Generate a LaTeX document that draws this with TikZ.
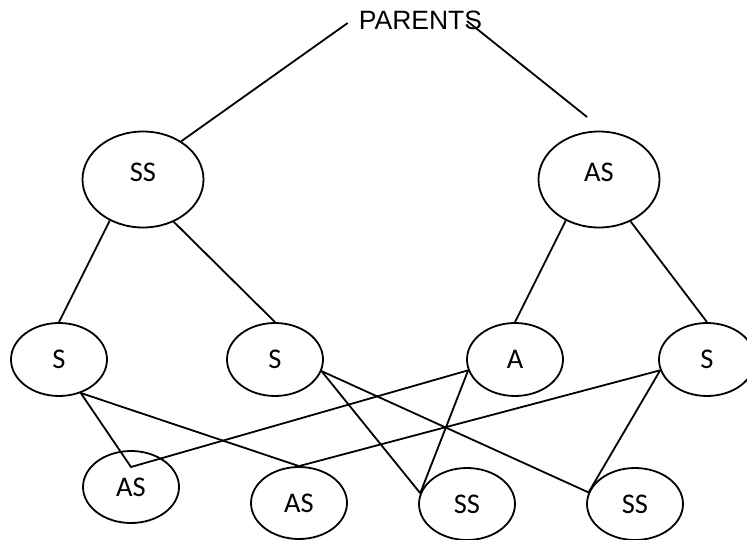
\documentclass[tikz,border=0pt]{standalone}
\usepackage{fontspec}
\setmainfont{Carlito}
\newfontfamily\headfont{Liberation Sans}
\usepackage{tikz}
\usetikzlibrary{shapes.geometric}
\tikzset{
  ell/.style={draw, ellipse, line width=1.8pt, inner sep=0pt,
    font=\fontsize{28.5}{34}\selectfont},
  topell/.style={ell, minimum width=121pt, minimum height=96pt, text depth=14.6pt},
  midell/.style={ell, minimum width=96pt, minimum height=73pt},
  lowell/.style={ell, minimum width=96pt, minimum height=72pt},
  link/.style={line width=1.8pt},
  head/.style={inner sep=0pt, font=\headfont\fontsize{26.5}{32}\selectfont},
}

\begin{document}
\begin{tikzpicture}[x=1pt, y=-1pt]
  \clip (0,0) rectangle (747,540);

  \node[head] (par) at (420.5,20) {PARENTS};

  % generation 1
  \node[topell] (ss) at (143,179.5) {SS};
  \node[topell] (as) at (599,179.5) {AS};

  % generation 2
  \node[midell] (s1) at (59,359.5)  {S};
  \node[midell] (s2) at (275,359.5) {S};
  \node[midell] (a)  at (515,359.5) {A};
  \node[midell] (s3) at (707,359.5) {S};

  % generation 3
  \node[lowell] (as1) at (131,487) {AS};
  \node[lowell] (as2) at (299,503) {AS};
  \node[lowell] (ss1) at (467,504) {SS};
  \node[lowell] (ss2) at (635,504) {SS};

  \coordinate (pl) at ([xshift=-11pt,yshift=-3pt]par.west);
  \coordinate (pr) at (467,21);
  \coordinate (pa) at (587,117);
  \coordinate (v1) at ([yshift=20pt]as1.center);

  \draw[link] (pl) -- (ss.45);
  \draw[link] (pr) -- (pa);

  \draw[link] (ss.231) -- (s1.north);
  \draw[link] (ss.306) -- (s2.north);
  \draw[link] (as.231) -- (a.north);
  \draw[link] (as.307) -- (s3.north);

  \draw[link] (s1.303) -- (v1) -- (a.193);
  \draw[link] (s1.303) -- (as2.north) -- (s3.193);
  \draw[link] (s2.346) -- (ss1.167);
  \draw[link] (s2.346) -- (ss2.166);
  \draw[link] (a.193) -- (ss1.167);
  \draw[link] (s3.193) -- (ss2.166);
\end{tikzpicture}
\end{document}
